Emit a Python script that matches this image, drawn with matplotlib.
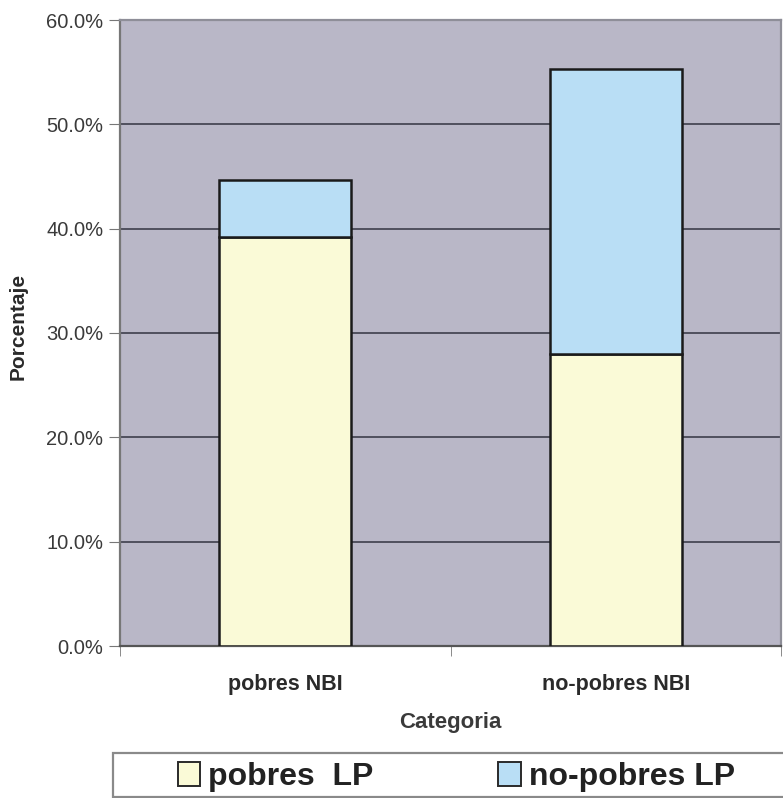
import numpy as np
import matplotlib
matplotlib.use("Agg")
import matplotlib.pyplot as plt
from matplotlib.patches import Patch, Rectangle
from matplotlib.ticker import FuncFormatter

plt.rcParams['font.family'] = ['Liberation Sans', 'DejaVu Sans']

# porcentajes por categoria NBI, apilados por condicion LP
categorias = ["pobres NBI", "no-pobres NBI"]
series = ["pobres  LP", "no-pobres LP"]
pobres_lp = [39.2, 28.0]
no_pobres_lp = [5.5, 27.3]
colores = ["#fafad7", "#b9def5"]

W, H = 783, 798
fig = plt.figure(figsize=(W / 100, H / 100), dpi=100)
ax = fig.add_axes([120 / W, 1 - 646 / H, 661 / W, 626 / H])
ax.set_facecolor("#b9b7c7")

x = np.arange(len(categorias))
ancho = 0.4
ax.bar(x, pobres_lp, ancho, color=colores[0], edgecolor="#1a1a1a", linewidth=1.8, zorder=3)
ax.bar(x, no_pobres_lp, ancho, bottom=pobres_lp, color=colores[1],
       edgecolor="#1a1a1a", linewidth=1.8, zorder=3)

ax.set_xlim(-0.5, 1.5)
ax.set_ylim(0, 60)
ax.set_yticks(np.arange(0, 61, 10))
ax.yaxis.set_major_formatter(FuncFormatter(lambda v, p: "%.1f%%" % v))
ax.yaxis.grid(True, color="#50505e", linewidth=1.4, zorder=1)

ax.set_xticks(x)
ax.set_xticklabels(categorias, fontsize=15.5, fontweight="bold", color="#2a2a2a")
ax.set_xticks([-0.5, 0.5, 1.5], minor=True)
ax.tick_params(axis="x", which="major", length=0, pad=20)
ax.tick_params(axis="x", which="minor", length=7, color="#777777")
ax.tick_params(axis="y", length=8, pad=4, color="#777777", labelsize=14.5, labelcolor="#3a3a3a")

for s in ["top", "right"]:
    ax.spines[s].set_color("#8e8e98")
    ax.spines[s].set_linewidth(1.6)
ax.spines["left"].set_color("#777777")
ax.spines["left"].set_linewidth(1.6)
ax.spines["bottom"].set_color("#555555")
ax.spines["bottom"].set_linewidth(1.6)

ax.set_ylabel("Porcentaje", fontsize=15, fontweight="bold", color="#2a2a2a")
ax.yaxis.set_label_coords(-0.139, 0.51)
ax.set_xlabel("Categoria", fontsize=16, fontweight="bold", color="#3a3a3a")
ax.xaxis.set_label_coords(0.5, -0.105)

# recuadro de la leyenda, abierto por la derecha
fig.patches.append(Rectangle((113 / W, 1 - 797 / H), 0.9, (797 - 753) / H,
                             transform=fig.transFigure, facecolor="white",
                             edgecolor="#8a8a8a", linewidth=1.6))

handles = [Patch(facecolor=c, edgecolor="#2a2a2a", linewidth=1.4) for c in colores]
leg = fig.legend(handles, series, loc="center left", bbox_to_anchor=(178 / W, 1 - 777 / H),
                 ncol=2, fontsize=23, frameon=False,
                 handlelength=0.7, handleheight=0.75, handletextpad=0.25,
                 borderpad=0.0, columnspacing=3.9, borderaxespad=0.0)
for t in leg.get_texts():
    t.set_fontweight("bold")
    t.set_color("#222222")

fig.savefig("out.png", dpi=100)
